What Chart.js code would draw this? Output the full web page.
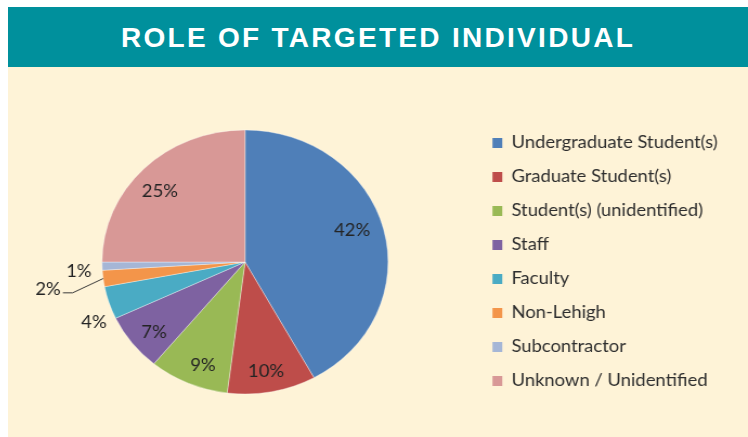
<!DOCTYPE html>
<html><head><meta charset="utf-8">
<script src="https://cdn.jsdelivr.net/npm/chart.js@4/dist/chart.umd.min.js"></script>
<style>
html,body{margin:0;padding:0;background:#fff;width:748px;height:437px;overflow:hidden;}
#title{position:absolute;left:8px;top:7px;width:740px;height:60px;background:#00909c;color:#fff;font:bold 28px "Liberation Sans",Arial,sans-serif;letter-spacing:2.3px;text-align:center;line-height:62px;}
#panel{position:absolute;left:8px;top:67px;width:740px;height:370px;background:#fef3d7;overflow:hidden;}
#wrap{position:absolute;left:0;top:0;width:683px;height:370px;transform:scaleX(1.0834);transform-origin:0 0;}
</style></head><body>
<div id="title">ROLE OF TARGETED INDIVIDUAL</div>
<div id="panel"><div id="wrap"><canvas id="c" width="683" height="370"></canvas></div></div>
<script>
const categories = ["Undergraduate Student(s)","Graduate Student(s)","Student(s) (unidentified)","Staff","Faculty","Non-Lehigh","Subcontractor","Unknown / Unidentified"];
const percentages = [42,10,9,7,4,2,1,25];
const sliceColors = ["#4f7fb8","#be4d4a","#99b955","#7e62a1","#4aabc4","#f3954a","#a5b6d6","#d89896"];
// label placement: distance as a fraction of the radius, and small angular nudge (degrees)
const labelRadiusFactor = [0.785,0.84,0.84,0.833,1.153,1.394,1.164,0.797];
const labelAngleShift = [-3,0.7,-2.9,-2.4,-5.6,-1.5,-1.8,-3.3];

const pctLabels = {
  id:'pctLabels',
  afterDatasetsDraw(chart){
    const ctx = chart.ctx;
    const meta = chart.getDatasetMeta(0);
    ctx.save();
    ctx.font = '17px Lato';
    ctx.fillStyle = '#242424';
    ctx.textAlign = 'center';
    ctx.textBaseline = 'middle';
    meta.data.forEach((arc,i)=>{
      const p = arc.getProps(['x','y','startAngle','endAngle','outerRadius'], true);
      const mid = (p.startAngle + p.endAngle)/2;
      const a = mid + labelAngleShift[i]*Math.PI/180;
      const r = p.outerRadius * labelRadiusFactor[i];
      const lx = p.x + Math.cos(a)*r, ly = p.y + Math.sin(a)*r;
      const txt = percentages[i] + '%';
      ctx.fillText(txt, lx, ly);
      if (labelRadiusFactor[i] > 1.3) {
        const tw = ctx.measureText(txt).width;
        ctx.beginPath();
        ctx.strokeStyle = '#3a3a3a';
        ctx.lineWidth = 1;
        ctx.moveTo(p.x + Math.cos(mid)*p.outerRadius, p.y + Math.sin(mid)*p.outerRadius);
        ctx.lineTo(lx + tw/2 + 11, ly + 3);
        ctx.lineTo(lx + tw/2 + 2, ly + 3);
        ctx.stroke();
      }
    });
    ctx.restore();
  }
};

const chart = new Chart(document.getElementById('c'), {
  type:'doughnut',
  data:{ labels:categories, datasets:[{ data:percentages, backgroundColor:sliceColors, borderColor:'rgba(255,255,255,0.35)', borderWidth:1 }]},
  options:{
    responsive:false, animation:false, cutout:0, radius:132,
    layout:{padding:{top:20,bottom:0,left:0,right:0}},
    plugins:{
      tooltip:{enabled:false},
      legend:{
        position:'right', align:'center',
        labels:{
          boxWidth:9, boxHeight:10, padding:17, color:'#2e2e2e',
          font:{family:'Lato', size:17},
          generateLabels(ch){
            const items = Chart.overrides.doughnut.plugins.legend.labels.generateLabels(ch);
            items.forEach(it=>{ it.lineWidth = 0; it.strokeStyle = 'rgba(0,0,0,0)'; });
            return items;
          }
        }
      }
    }
  },
  plugins:[pctLabels]
});
// align legend items and pie centre with the reference layout
const targetItemX = 447.2, targetCenterX = 218.8;
const hb = chart.legend.legendHitBoxes[0];
chart.options.layout.padding.right = Math.max(0, hb.left - targetItemX);
chart.update();
chart.options.layout.padding.left = Math.max(0, 2*targetCenterX - chart.chartArea.right);
chart.update();
</script>
</body></html>
